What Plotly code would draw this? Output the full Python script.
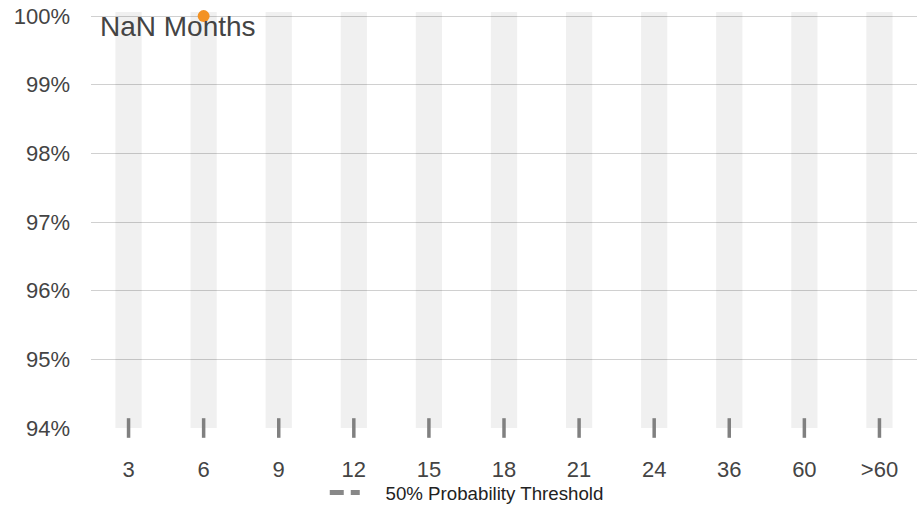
import plotly.graph_objects as go

categories = ["3", "6", "9", "12", "15", "18", "21", "24", "36", "60", ">60"]
band_top = [100.06] * 11
band_base = 94
point_x = ["6"]
point_y = [100]
threshold_y = [50] * 11
tick_y = [94] * 11
label_text = "NaN Months"
NB = "\u00a0"

fig = go.Figure()
fig.add_trace(go.Bar(
    x=categories, y=[t - band_base for t in band_top], base=band_base,
    width=0.35, marker=dict(color="rgba(0,0,0,0.06)", line=dict(width=0)),
    showlegend=False, hoverinfo="skip"))
fig.add_trace(go.Scatter(
    x=categories, y=threshold_y, mode="lines",
    line=dict(color="#888888", width=5, dash="14px,7px"),
    name=NB * 4 + "50% Probability Threshold", showlegend=True))
fig.add_trace(go.Scatter(
    x=categories, y=tick_y, mode="markers", cliponaxis=False,
    marker=dict(symbol="line-ns-open", size=14, color="#808080",
                line=dict(width=3.5, color="#808080")),
    showlegend=False, hoverinfo="skip"))
fig.add_trace(go.Scatter(
    x=point_x, y=point_y, mode="markers", cliponaxis=False,
    marker=dict(color="#f39223", size=12), showlegend=False))

fig.add_annotation(text=label_text, xref="paper", yref="paper", x=0.008, y=0.964,
                   xanchor="left", yanchor="middle", showarrow=False,
                   font=dict(size=28, color="#444444"))

fig.update_layout(
    width=917, height=507,
    margin=dict(l=91, r=0, t=12, b=79),
    plot_bgcolor="white", paper_bgcolor="white",
    font=dict(family="Liberation Sans, Arial, sans-serif", color="#444444"),
    bargap=0.65,
    legend=dict(orientation="h", x=0.283, y=0.028, xref="paper", yref="container",
                xanchor="left", yanchor="middle", bgcolor="rgba(0,0,0,0)",
                font=dict(size=18.7, color="#222222")),
    xaxis=dict(type="category", range=[-0.5, 10.5], showgrid=False, showline=False,
               zeroline=False, ticks="", tickfont=dict(size=22, color="#444444"),
               ticklabelstandoff=26, automargin=False),
    yaxis=dict(range=[94, 100.06], dtick=1, tick0=94, ticksuffix="%", showgrid=True,
               gridcolor="#d0d0d0", gridwidth=1, zeroline=False, showline=False,
               tickfont=dict(size=22, color="#444444"), ticks="", ticklabelstandoff=20,
               automargin=False),
)
fig.write_html("out.html", config={"displayModeBar": False},
               post_script="document.body.style.margin='0';")
